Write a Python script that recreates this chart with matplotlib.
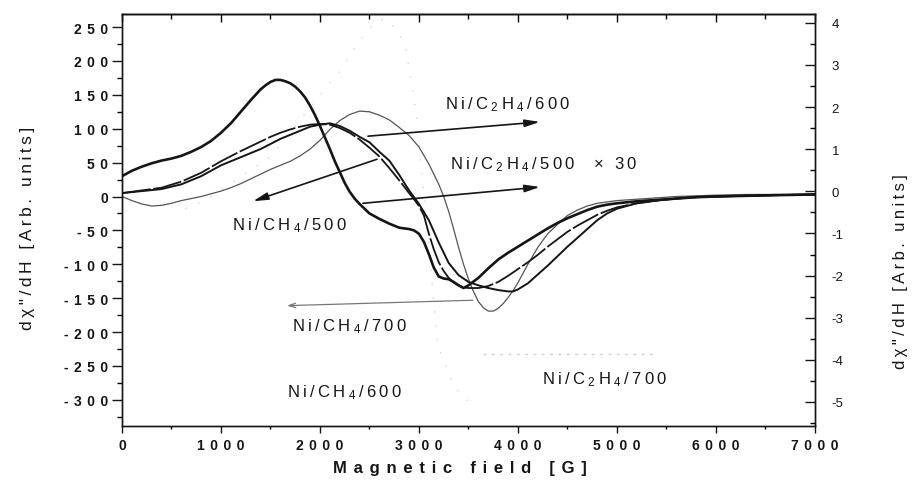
import re
import matplotlib
matplotlib.use('Agg')
import matplotlib.pyplot as plt
from matplotlib.ticker import MultipleLocator

plt.rcParams['font.family'] = ['Liberation Sans', 'DejaVu Sans']
plt.rcParams['mathtext.fontset'] = 'custom'
plt.rcParams['mathtext.rm'] = 'Liberation Sans'
plt.rcParams['mathtext.it'] = 'Liberation Sans:italic'
plt.rcParams['mathtext.bf'] = 'Liberation Sans:bold'

# Values (left axis units)
a_x = [0, 100, 200, 300, 400, 500, 600, 700, 800, 900, 1000, 1100, 1200, 1300, 1400, 1450, 1500, 1550,
       1600, 1650, 1700, 1750, 1800, 1850, 1900, 1950, 2000, 2050, 2100, 2150, 2200, 2250, 2300, 2350,
       2400, 2450, 2500, 2600, 2700, 2800, 2900, 2950, 3000, 3050, 3100, 3150, 3200, 3250, 3300, 3350,
       3400, 3450, 3500, 3600, 3700, 3800, 3900, 4000, 4100, 4200, 4300, 4400, 4500, 4600, 4700, 4800,
       4900, 5000, 5200, 5400, 5600, 5800, 6000, 6300, 6600, 7000]
a_y = [30, 38, 44, 49, 53, 56, 60, 66, 73, 82, 94, 108, 125, 142, 158, 164, 169, 172,
       172, 170, 167, 162, 155, 146, 134, 120, 104, 87, 70, 52, 36, 20, 7, -3,
       -11, -18, -25, -33, -40, -46, -48, -50, -55, -67, -85, -105, -118, -121, -122, -126,
       -131, -135, -131, -120, -106, -93, -83, -74, -65, -56, -47, -39, -32, -26, -20, -15,
       -12, -10, -7, -5, -3, -1, 0, 1, 2, 3]

b_x = [0, 200, 400, 600, 800, 1000, 1200, 1400, 1500, 1600, 1700, 1800, 1900, 2000, 2100, 2200, 2300,
       2400, 2500, 2600, 2700, 2800, 2900, 2950, 3000, 3050, 3100, 3150, 3200, 3250, 3300, 3350, 3400,
       3450, 3500, 3600, 3700, 3800, 3900, 4000, 4100, 4200, 4300, 4400, 4500, 4600, 4700, 4800, 4900,
       5000, 5200, 5400, 5600, 5800, 6000, 6300, 6600, 7000]
b_y = [5, 9, 13, 22, 35, 52, 67, 81, 88, 94, 99, 103, 106, 107, 106, 101, 94,
       84, 72, 59, 42, 24, 5, -4, -14, -28, -55, -78, -97, -110, -120, -127, -131,
       -134, -135, -135, -132, -126, -117, -107, -97, -86, -74, -63, -52, -43, -35, -27, -21,
       -16, -10, -6, -3, -1, 0, 1, 2, 3]

c_x = [0, 200, 400, 600, 800, 1000, 1200, 1400, 1600, 1700, 1800, 1900, 2000, 2100, 2200, 2300, 2400,
       2500, 2600, 2700, 2800, 2900, 3000, 3100, 3200, 3300, 3400, 3500, 3600, 3700, 3800, 3900, 3950,
       4000, 4100, 4200, 4300, 4400, 4500, 4600, 4700, 4800, 4900, 5000, 5200, 5400, 5600, 5800, 6000,
       6300, 6600, 7000]
c_y = [5, 8, 11, 18, 30, 46, 58, 70, 85, 91, 97, 103, 106, 108, 104, 97, 88,
       80, 66, 53, 32, 9, -11, -35, -68, -98, -116, -126, -131, -135, -138, -140, -140,
       -137, -128, -115, -102, -88, -74, -61, -48, -35, -25, -18, -10, -6, -3, -1, 0,
       1, 2, 3]

d_x = [0, 100, 200, 300, 400, 500, 600, 700, 800, 900, 1000, 1100, 1200, 1300, 1400, 1500, 1600, 1700,
       1800, 1900, 2000, 2100, 2200, 2300, 2400, 2500, 2600, 2700, 2800, 2900, 3000, 3100, 3200, 3250,
       3300, 3350, 3400, 3450, 3500, 3550, 3600, 3650, 3700, 3750, 3800, 3850, 3900, 3950, 4000, 4100,
       4200, 4300, 4400, 4500, 4600, 4700, 4800, 4900, 5000, 5200, 5400, 5600, 5800, 6000, 6300, 6600,
       7000]
d_y = [0, -6, -11, -14, -13, -10, -6, -3, 0, 4, 8, 13, 19, 26, 33, 40, 46, 52,
       60, 70, 83, 99, 112, 121, 126, 125, 120, 113, 102, 90, 73, 48, 18, 0,
       -22, -48, -75, -100, -122, -140, -155, -164, -169, -169, -165, -158, -149, -139, -127, -100,
       -75, -55, -41, -28, -20, -14, -10, -8, -6, -4, -2, 0, 1, 2, 3, 3,
       3]

# faint, partly lost trace in the scan
f_x = [640, 860, 1390, 1510, 2130, 2220, 2280, 2410, 2560, 2660, 2780, 2840, 2870, 2970, 3030, 3190, 3350, 3500]
f_y = [-18, -4, 48, 60, 173, 188, 204, 232, 258, 263, 245, 228, 216, 125, 36, -220, -280, -302]
g_x = [3650, 5380]
g_y = [-233, -233]

x_ticks = [0, 1000, 2000, 3000, 4000, 5000, 6000, 7000]
left_ticks = [-300, -250, -200, -150, -100, -50, 0, 50, 100, 150, 200, 250]
right_ticks = [-5, -4, -3, -2, -1, 0, 1, 2, 3, 4]

labels = ['Ni/C$_2$H$_4$/600', 'Ni/C$_2$H$_4$/500  \u00d7 30', 'Ni/CH$_4$/500',
          'Ni/CH$_4$/700', 'Ni/CH$_4$/600', 'Ni/C$_2$H$_4$/700']
label_x = [3262, 3313, 1111, 1717, 1667, 4242]
label_y = [130, 41, -48, -198, -294, -275]

arrow_tails = [(2485, 89), (2434, -10), (2576, 55)]
arrow_heads = [(4222, 110), (4222, 14), (1323, -7)]
grey_tail = (3545, -153)
grey_head = (1667, -161)

THIN = '\u2009'
INK = '#151515'


def spread(s, gap=THIN):
    # letter spacing like the original lettering, keeping $..$ pieces whole
    tokens = re.findall(r'\$[^$]*\$|.', s)
    return gap.join(tokens)


fig = plt.figure(figsize=(9.15, 4.89), dpi=100)
ax = fig.add_axes([0.1333, 0.1268, 0.7574, 0.8425])

ax.plot(f_x, f_y, color='#d6d6d6', lw=1.0, linestyle=(0, (1, 9)))
ax.plot(g_x, g_y, color='#d0d0d0', lw=1.0, linestyle=(0, (2, 4)))
ax.plot(d_x, d_y, color='#555555', lw=0.9)
ax.plot(c_x, c_y, color=INK, lw=1.4)
ax.plot(b_x, b_y, color=INK, lw=1.3, dashes=(16, 1.5))
ax.plot(a_x, a_y, color=INK, lw=1.9)

for (tx, ty), (hx, hy) in zip(arrow_tails, arrow_heads):
    ax.annotate('', xy=(hx, hy), xytext=(tx, ty),
                arrowprops=dict(arrowstyle='-|>,head_length=0.9,head_width=0.22', color=INK, lw=1.2,
                                shrinkA=0, shrinkB=0, mutation_scale=10))
ax.annotate('', xy=grey_head, xytext=grey_tail,
            arrowprops=dict(arrowstyle='->,head_length=0.6,head_width=0.2', color='#777777', lw=0.9,
                            shrinkA=0, shrinkB=0, mutation_scale=8))

for txt, lx, ly in zip(labels, label_x, label_y):
    ax.text(lx, ly, spread(txt), fontsize=12, color=INK, ha='left', va='baseline')

ax.set_xlim(0, 7000)
ax.set_ylim(-338.5, 269.2)
ax.set_xticks(x_ticks)
ax.set_xticklabels([spread(str(v), THIN * 2) for v in x_ticks], fontweight='bold')
ax.set_yticks(left_ticks)
ax.set_yticklabels([spread(str(v), THIN * 2) for v in left_ticks], fontweight='bold')
ax.xaxis.set_minor_locator(MultipleLocator(500))
ax.yaxis.set_minor_locator(MultipleLocator(25))
ax.tick_params(axis='x', which='major', direction='out', length=5, width=1, pad=4, labelsize=10,
               colors=INK, top=False)
ax.tick_params(axis='x', which='minor', direction='out', length=2.5, width=1, top=False)
ax.tick_params(axis='y', which='major', direction='out', length=7, width=1, pad=3, labelsize=10,
               colors=INK, right=False)
ax.tick_params(axis='y', which='minor', direction='out', length=3.6, width=1, right=False)

top = ax.secondary_xaxis('top')
top.set_xticks(x_ticks)
top.xaxis.set_minor_locator(MultipleLocator(500))
top.tick_params(which='major', direction='in', length=5.8, width=1, labeltop=False)
top.tick_params(which='minor', direction='in', length=3.6, width=1)

ax2 = ax.twinx()
ax2.set_ylim(-5.57, 4.21)
ax2.set_yticks(right_ticks)
ax2.set_yticklabels([str(v) for v in right_ticks])
ax2.yaxis.set_minor_locator(MultipleLocator(0.5))
ax2.tick_params(which='major', direction='in', length=7, width=1, pad=12, labelsize=9.5, colors=INK)
ax2.tick_params(which='minor', direction='in', length=3.6, width=1)

for a in (ax, ax2, top):
    for sp in a.spines.values():
        sp.set_linewidth(1.0)
        sp.set_color(INK)

ylab = spread('d\u03c7"/dH [Arb. units]')
ax.set_xlabel(spread('Magnetic field [G]', THIN * 2), fontsize=12, fontweight='bold', color=INK)
ax.xaxis.set_label_coords(0.488, -0.0825)
ax.set_ylabel(ylab, fontsize=12.5, color=INK)
ax.yaxis.set_label_coords(-0.1255, 0.483)
ax2.set_ylabel(ylab, fontsize=12, color=INK)
ax2.yaxis.set_label_coords(1.1126, 0.376)

fig.savefig('out.png', dpi=100)
plt.close(fig)
